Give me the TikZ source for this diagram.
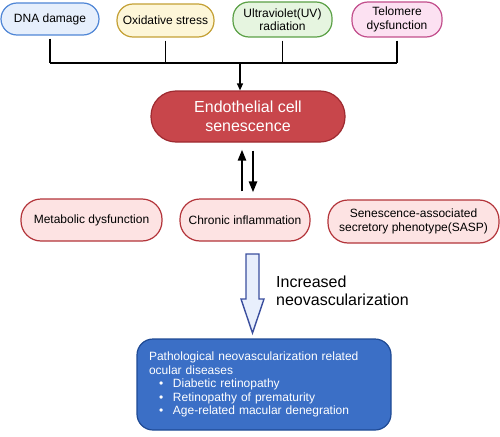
\documentclass[tikz,border=0pt]{standalone}
\usepackage{fontspec}
\setmainfont{Liberation Sans}
\usetikzlibrary{arrows.meta,calc}
\definecolor{dnaF}{HTML}{E6EFFC}\definecolor{dnaD}{HTML}{4F86D6}
\definecolor{oxF}{HTML}{FDF6D8}\definecolor{oxD}{HTML}{C4A035}
\definecolor{uvF}{HTML}{E6F5E0}\definecolor{uvD}{HTML}{5BA046}
\definecolor{telF}{HTML}{FCE1F2}\definecolor{telD}{HTML}{C24E8C}
\definecolor{pkF}{HTML}{FDE3E3}\definecolor{pkD}{HTML}{B3343A}
\definecolor{enF}{HTML}{C8464B}\definecolor{enD}{HTML}{9E2A30}
\definecolor{blF}{HTML}{3B6FC6}\definecolor{blD}{HTML}{1F4A94}
\definecolor{haF}{HTML}{E8EFFC}\definecolor{haD}{HTML}{3A4E9E}
\begin{document}
\begin{tikzpicture}[x=1pt,y=-1pt,
  box/.style={draw, line width=1.2pt, rounded corners=16pt, align=center, inner sep=0pt,
    font=\fontsize{12}{13.5}\selectfont},
  midbox/.style={box, fill=pkF, draw=pkD, rounded corners=20pt},
  branch/.style={line width=1.8pt, black},
  bold arrow/.style={line width=2.4pt, -{Triangle[length=11pt,width=8pt]}}
]
\useasboundingbox (0,0) rectangle (500,436);

% top causes
\node[box, fill=dnaF, draw=dnaD, minimum width=98pt, minimum height=32pt] (dna) at (50,19) {DNA damage};
\node[box, fill=oxF, draw=oxD, minimum width=97pt, minimum height=33pt] (ox) at (165.5,20.5) {Oxidative stress};
\node[box, fill=uvF, draw=uvD, minimum width=99pt, minimum height=35pt] (uv) at (282.5,19.5) {Ultraviolet(UV)\\radiation};
\node[box, fill=telF, draw=telD, minimum width=90pt, minimum height=35pt] (tel) at (397,19.5) {Telomere\\dysfunction};

% central node
\node[box, fill=enF, draw=enD, rounded corners=25pt, minimum width=194pt, minimum height=51pt,
  text=white, font=\fontsize{16}{19}\selectfont] (endo) at (248,116.5) {Endothelial cell\\senescence};

% merge lines
\coordinate (j) at (240,63);
\foreach \b in {dna,ox,uv,tel}{
  \draw[branch] ([yshift=-3pt]\b.south) -- (\b.south |- j);
}
\draw[branch, line cap=square] (dna.south |- j) -- (tel.south |- j);
\draw[line width=1.2pt, -{Triangle[length=7pt,width=6pt]}] (j) -- (j |- endo.north);

% middle row
\node[midbox, minimum width=141pt, minimum height=42pt] (met) at (91.5,220) {Metabolic dysfunction};
\node[midbox, minimum width=130pt, minimum height=42pt] (chr) at (245,220) {Chronic inflammation};
\node[midbox, minimum width=171pt, minimum height=43pt] (sasp) at (413.5,221.5) {Senescence-associated\\secretory phenotype(SASP)};

% two-way arrows
\draw[bold arrow] ($(chr.north)+(-3pt,7pt)$) -- ($(chr.north |- endo.south)+(-3pt,-7pt)$);
\draw[bold arrow] ($(chr.north |- endo.south)+(8pt,-8pt)$) -- ($(chr.north)+(8pt,6pt)$);

% outcome box
\node[draw=blD, fill=blF, line width=1.2pt, rounded corners=16pt, minimum width=254pt, minimum height=91pt,
  text width=230pt, inner xsep=12pt, align=left, text=white, font=\fontsize{12}{13.6}\selectfont] (out) at (264,384.5)
  {Pathological neovascularization related\\ocular diseases\\
   \hspace*{10pt}\makebox[14pt][l]{\textbullet}Diabetic retinopathy\\
   \hspace*{10pt}\makebox[14pt][l]{\textbullet}Retinopathy of prematurity\\
   \hspace*{10pt}\makebox[14pt][l]{\textbullet}Age-related macular denegration};

% hollow arrow
\draw[draw=haD, fill=haF, line width=1.4pt, line join=miter]
  (246,254) -- (259,254) -- (259,299) -- (264,299) -- (252.5,333) -- (241,299) -- (246,299) -- cycle;
\node[anchor=north west, inner sep=0pt, align=left, font=\fontsize{16}{18}\selectfont] (incr) at (276,276)
  {Increased\\neovascularization};
\end{tikzpicture}
\end{document}
